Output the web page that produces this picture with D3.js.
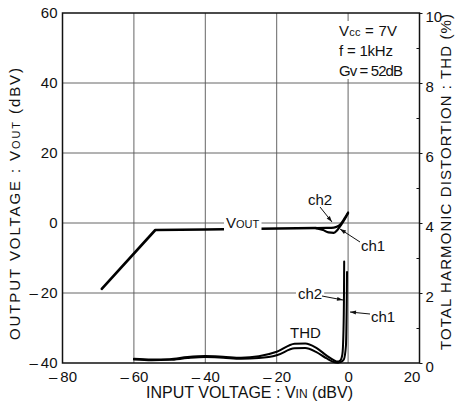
<!DOCTYPE html>
<html><head><meta charset="utf-8">
<script src="https://cdn.jsdelivr.net/npm/d3@7"></script>
<style>
body{margin:0;background:#fff;}
svg{display:block;font-family:"Liberation Sans Narrow","Liberation Sans",Arial,sans-serif;}
</style></head><body>
<svg id="c" width="460" height="407"></svg>
<script>
// ---- data ----
const xTicks = [-80, -60, -40, -20, 0, 20];
const yLeftTicks = [-40, -20, 0, 20, 40, 60];
const yRightTicks = [0, 2, 4, 6, 8, 10];
const yRightMinor = [1, 3, 5, 7, 9];

// VOUT (dBV) common part
const vinMain  = [-69, -54, -40, -25, -9];
const voutMain = [-18.8, -2.0, -1.85, -1.65, -1.45];
// VOUT tails near clipping
const vinTailCh1  = [-9, -7, -5.5, -4, -3, -2, -1, 0];
const voutTailCh1 = [-1.45, -2.0, -2.7, -2.8, -2.0, -0.6, 1.0, 2.8];
const vinTailCh2  = [-9, -6, -4, -3, -2, -1, 0];
const voutTailCh2 = [-1.45, -1.4, -1.3, -1.0, -0.2, 1.3, 3.0];

// THD (%)
const vinThdCh2 = [-60, -55, -50, -45, -40, -35, -30, -25, -20, -15, -12, -9, -6, -4, -3, -2.2, -1.6, -1.3, -1.15, -1.1];
const thdCh2    = [0.12, 0.10, 0.11, 0.17, 0.20, 0.18, 0.15, 0.19, 0.32, 0.55, 0.56, 0.44, 0.21, 0.08, 0.04, 0.07, 0.25, 0.9, 2.0, 2.9];
const vinThdCh1 = [-60, -55, -50, -45, -40, -35, -30, -25, -20, -15, -12, -9, -6, -4, -2.8, -2, -1.2, -0.6, -0.4, -0.3];
const thdCh1    = [0.10, 0.08, 0.09, 0.14, 0.17, 0.15, 0.12, 0.14, 0.22, 0.42, 0.43, 0.32, 0.13, 0.03, 0.01, 0.03, 0.10, 0.5, 1.6, 2.6];

// ---- chart ----
const svg = d3.select("#c");
const L = 62.5, R = 419.5, T = 13, B = 363;
const x = d3.scaleLinear().domain([-80, 20]).range([L, R]);
const yL = d3.scaleLinear().domain([-40, 60]).range([B, T]);
const yR = d3.scaleLinear().domain([0, 10]).range([B, T]);
const fmt = d => d < 0 ? "\u2013\u2009" + Math.abs(d) : String(d);

// grid
const g = svg.append("g").attr("stroke", "#555").attr("stroke-width", 0.9);
xTicks.filter(d => d > -80 && d < 20).forEach(d =>
  g.append("line").attr("x1", x(d)).attr("x2", x(d)).attr("y1", T).attr("y2", B));
yLeftTicks.filter(d => d > -40 && d < 60).forEach(d =>
  g.append("line").attr("x1", L).attr("x2", R).attr("y1", yL(d)).attr("y2", yL(d)));

// axes (labels via d3 axes)
const ax = svg.append("g").attr("transform", `translate(0,${B})`)
  .call(d3.axisBottom(x).tickValues(xTicks).tickFormat(fmt).tickSize(0).tickPadding(8));
ax.select(".domain").remove();
ax.selectAll("text").attr("font-size", 15).attr("fill", "#111")
  .attr("dx", d => d === 20 ? -8 : 0);

const ayl = svg.append("g").attr("transform", `translate(${L},0)`)
  .call(d3.axisLeft(yL).tickValues(yLeftTicks).tickFormat(fmt).tickSize(0).tickPadding(5));
ayl.select(".domain").remove();
ayl.selectAll("text").attr("font-size", 15).attr("fill", "#111");

const ayr = svg.append("g").attr("transform", `translate(${R},0)`)
  .call(d3.axisRight(yR).tickValues(yRightTicks).tickSize(3).tickPadding(3));
ayr.select(".domain").remove();
ayr.selectAll("line").attr("stroke", "#111");
ayr.selectAll("text").attr("font-size", 15).attr("fill", "#111").attr("dy", "0.55em");
const aym = svg.append("g").attr("transform", `translate(${R},0)`)
  .call(d3.axisLeft(yR).tickValues(yRightMinor).tickSize(3).tickFormat(""));
aym.select(".domain").remove();
aym.selectAll("line").attr("stroke", "#111");

// frame
svg.append("rect").attr("x", L).attr("y", T).attr("width", R - L).attr("height", B - T)
  .attr("fill", "none").attr("stroke", "#111").attr("stroke-width", 1.5);

// helper for labels with white background
function label(px, py, parts, size, len) {
  const t = svg.append("text").attr("x", px).attr("y", py).attr("font-size", size)
    .attr("fill", "#111");
  if (len) t.attr("textLength", len).attr("lengthAdjust", "spacing");
  parts.forEach(p => {
    const s = t.append("tspan").text(p[0]);
    if (p[1]) s.attr("font-size", p[1]);
  });
  const bb = t.node().getBBox();
  svg.insert("rect", () => t.node()).attr("x", bb.x - 2).attr("y", bb.y).attr("width", bb.width + 4)
    .attr("height", bb.height).attr("fill", "#fff");
  return t;
}

// condition box
svg.append("rect").attr("x", 335).attr("y", 21).attr("width", 76).attr("height", 58).attr("fill", "#fff");
label(339, 36, [["V"], ["cc", 11], [" = 7V"]], 15, 58);
label(339, 56, [["f = 1kHz"]], 15, 54);
label(339, 76, [["Gv = 52dB"]], 15, 64);

// curves
const lineLin = d3.line().x(d => x(d[0])).y(d => yL(d[1]));
const lineL = d3.line().x(d => x(d[0])).y(d => yL(d[1])).curve(d3.curveMonotoneX);
const lineR = d3.line().x(d => x(d[0])).y(d => yR(d[1])).curve(d3.curveMonotoneX);
const zip = (a, b) => a.map((v, i) => [v, b[i]]);
const curves = svg.append("g").attr("fill", "none").attr("stroke", "#000")
  .attr("stroke-linejoin", "round").attr("stroke-linecap", "round");
curves.append("path").attr("d", lineLin(zip(vinMain, voutMain))).attr("stroke-width", 2.6);
curves.append("path").attr("d", lineL(zip(vinTailCh1, voutTailCh1))).attr("stroke-width", 2.2);
curves.append("path").attr("d", lineL(zip(vinTailCh2, voutTailCh2))).attr("stroke-width", 2.2);
curves.append("path").attr("d", lineR(zip(vinThdCh2, thdCh2))).attr("stroke-width", 2.0);
curves.append("path").attr("d", lineR(zip(vinThdCh1, thdCh1))).attr("stroke-width", 2.0);

// annotations
label(226, 228, [["V"], ["OUT", 11]], 15);
label(290, 338, [["THD"]], 15);
label(308, 205, [["ch2"]], 15);
label(361, 251, [["ch1"]], 15);
label(298, 299, [["ch2"]], 15);
label(371, 322, [["ch1"]], 15);

const arr = svg.append("g").attr("stroke", "#111").attr("stroke-width", 1);
function arrow(x1, y1, x2, y2) {
  arr.append("line").attr("x1", x1).attr("y1", y1).attr("x2", x2).attr("y2", y2);
  const a = Math.atan2(y2 - y1, x2 - x1), h = 6, w = 2;
  const bx = x2 - h * Math.cos(a), by = y2 - h * Math.sin(a);
  svg.append("path").attr("fill", "#111")
    .attr("d", `M${x2},${y2}L${bx - w * Math.sin(a)},${by + w * Math.cos(a)}L${bx + w * Math.sin(a)},${by - w * Math.cos(a)}Z`);
}
arrow(320, 207, 332, 222);
arrow(360, 242, 340, 229);
arrow(322, 296, 343, 300);
arrow(370, 314, 350, 312);

// axis titles
svg.append("text").attr("x", 146).attr("y", 398).attr("font-size", 16).attr("fill", "#111")
  .attr("textLength", 207).attr("lengthAdjust", "spacing")
  .call(t => { t.append("tspan").text("INPUT VOLTAGE : V"); t.append("tspan").attr("font-size", 12).text("IN"); t.append("tspan").text(" (dBV)"); });

svg.append("text").attr("transform", "translate(20,340) rotate(-90)").attr("font-size", 15).attr("fill", "#111")
  .attr("textLength", 272).attr("lengthAdjust", "spacing")
  .call(t => { t.append("tspan").text("OUTPUT VOLTAGE : V"); t.append("tspan").attr("font-size", 11).text("OUT"); t.append("tspan").text(" (dBV)"); });

svg.append("text").attr("transform", "translate(451,350) rotate(-90)").attr("font-size", 15).attr("fill", "#111")
  .attr("textLength", 336).attr("lengthAdjust", "spacing")
  .text("TOTAL HARMONIC DISTORTION : THD (%)");
</script>
</body></html>
